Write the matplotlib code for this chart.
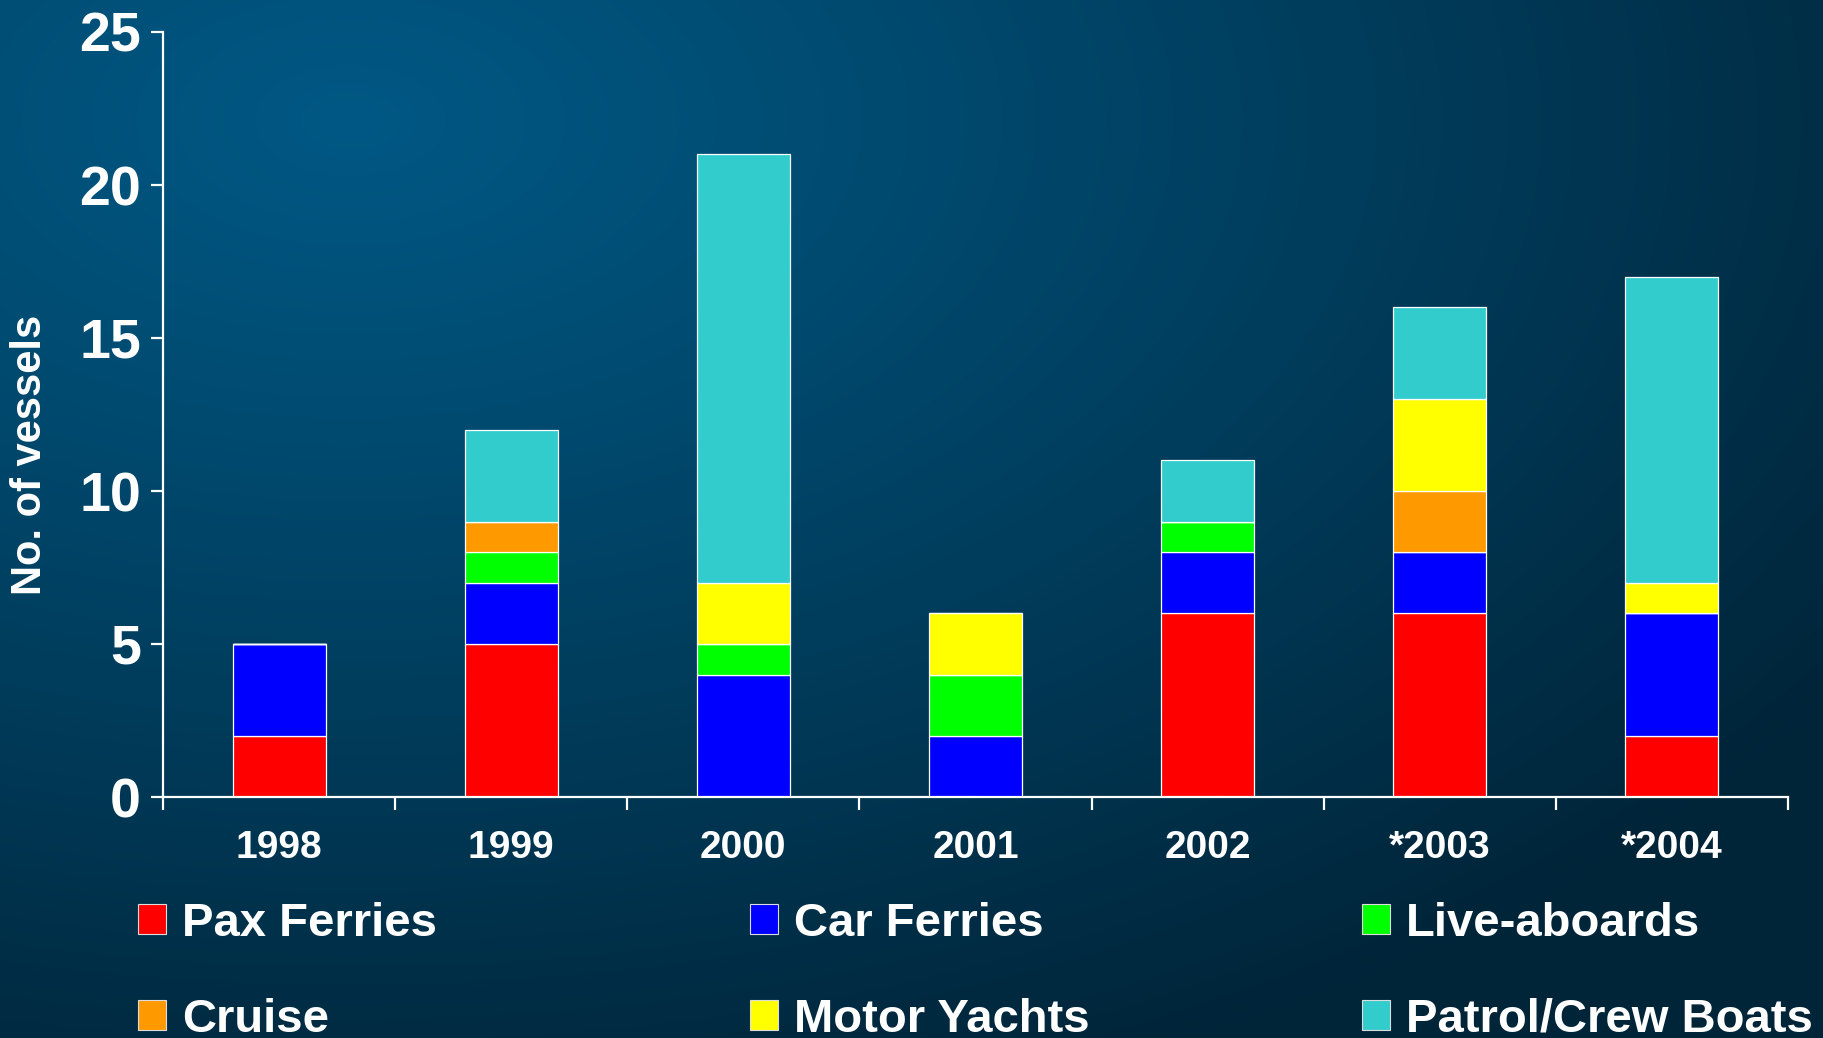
import numpy as np
import matplotlib
matplotlib.use("Agg")
import matplotlib.pyplot as plt
from matplotlib.patches import Patch

plt.rcParams['font.family'] = ['Liberation Sans', 'DejaVu Sans']
plt.rcParams['font.weight'] = 'bold'

#############################################################
# Data
#############################################################

years = ['1998', '1999', '2000', '2001', '2002', '*2003', '*2004']

pax_ferries = [2, 5, 0, 0, 6, 6, 2]
car_ferries = [3, 2, 4, 2, 2, 2, 4]
live_aboards = [0, 1, 1, 2, 1, 0, 0]
cruise = [0, 1, 0, 0, 0, 2, 0]
motor_yachts = [0, 0, 2, 2, 0, 3, 1]
patrol_crew = [0, 3, 14, 0, 2, 3, 10]

series_names = ['Pax Ferries', 'Car Ferries', 'Live-aboards',
                'Cruise', 'Motor Yachts', 'Patrol/Crew Boats']
series_values = [pax_ferries, car_ferries, live_aboards,
                 cruise, motor_yachts, patrol_crew]
series_colors = ['#FF0000', '#0000FF', '#00FF00',
                 '#FF9900', '#FFFF00', '#33CCCC']

#############################################################
# Figure + background gradient
#############################################################

W, H = 1824, 1038
fig = plt.figure(figsize=(W / 100, H / 100), dpi=100)

bg = fig.add_axes([0, 0, 1, 1], zorder=-10)
yy, xx = np.mgrid[0:H, 0:W]
t = np.sqrt(((xx - 350) / 1800.0) ** 2 + ((yy - 120) / 1050.0) ** 2)
t = np.clip(t, 0, 1)[..., None] ** 1.1
c0 = np.array([0, 88, 132]) / 255.0
c1 = np.array([0, 36, 56]) / 255.0
img = c0 * (1 - t) + c1 * t
bg.imshow(img, aspect='auto', extent=[0, 1, 0, 1])
bg.axis('off')

#############################################################
# Bars
#############################################################

ax = fig.add_axes([163 / W, 1 - 797 / H, (1788 - 163) / W, (797 - 32) / H])
ax.set_facecolor('none')

x = np.arange(len(years))
bottom = np.zeros(len(years))
for name, vals, col in zip(series_names, series_values, series_colors):
    vals = np.array(vals, dtype=float)
    ax.bar(x, vals, 0.4, bottom=bottom, color=col, edgecolor='white',
           linewidth=0.9, label=name)
    bottom += vals

ax.set_xlim(-0.5, len(years) - 0.5)
ax.set_ylim(0, 25)
ax.set_yticks([0, 5, 10, 15, 20, 25])
ax.set_xticks(x)
ax.set_xticklabels(years)
ax.set_xticks(np.arange(-0.5, len(years)), minor=True)

for s in ['top', 'right']:
    ax.spines[s].set_visible(False)
for s in ['left', 'bottom']:
    ax.spines[s].set_color('white')
    ax.spines[s].set_linewidth(1.6)

ax.tick_params(axis='y', colors='white', length=9, width=1.6,
               labelsize=40, pad=7)
ax.tick_params(axis='x', which='major', length=0, colors='white',
               labelsize=28, pad=24)
ax.tick_params(axis='x', which='minor', length=9, width=1.6, color='white')
for lab in ax.get_xticklabels() + ax.get_yticklabels():
    lab.set_fontweight('bold')

fig.text(30 / W, 1 - 455 / H, 'No. of vessels', rotation=90, color='white',
         fontsize=30, fontweight='bold', ha='center', va='center')

#############################################################
# Legend - three columns placed by hand
#############################################################

handles = [Patch(facecolor=c, edgecolor='#DDDDDD', linewidth=0.8)
           for c in series_colors]
col_x = [138, 750, 1362]
for i in range(3):
    hs = [handles[i], handles[i + 3]]
    ls = [series_names[i], series_names[i + 3]]
    leg = fig.legend(hs, ls, loc='upper left',
                     bbox_to_anchor=(col_x[i] / W, 1 - 902 / H),
                     frameon=False, fontsize=34, ncol=1,
                     handlelength=0.6, handleheight=0.6,
                     handletextpad=0.33, labelspacing=1.1,
                     borderpad=0, borderaxespad=0)
    for txt in leg.get_texts():
        txt.set_color('white')
        txt.set_fontweight('bold')

fig.savefig('out.png', dpi=100)
